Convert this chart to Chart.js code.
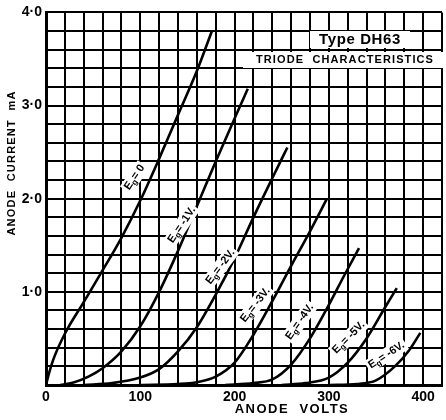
<!DOCTYPE html>
<html>
<head>
<meta charset="utf-8">
<script src="https://cdn.jsdelivr.net/npm/chart.js@4/dist/chart.umd.min.js"></script>
<style>
  html, body { margin: 0; padding: 0; background: #fff; }
  #wrap { width: 446px; height: 420px; position: relative; }
</style>
</head>
<body>
<div id="wrap"><canvas id="valve"></canvas></div>
<script>
// Triode characteristics, anode volts vs anode current (mA)

const volts0 = [0, 3, 8, 20, 40, 60, 80, 100, 120, 140, 160, 176];
const amps0 = [0, 0.12, 0.28, 0.55, 0.89, 1.23, 1.58, 1.98, 2.43, 2.9, 3.37, 3.8];

const volts1 = [15, 30, 45, 60, 80, 100, 120, 140, 160, 180, 200, 214];
const amps1 = [0, 0.03, 0.09, 0.18, 0.36, 0.63, 1.0, 1.44, 1.92, 2.4, 2.86, 3.18];

const volts2 = [40, 70, 100, 120, 140, 160, 180, 200, 220, 240, 256];
const amps2 = [0, 0.02, 0.08, 0.17, 0.36, 0.62, 0.97, 1.36, 1.8, 2.22, 2.55];

const volts3 = [100, 140, 160, 180, 200, 220, 240, 260, 280, 298];
const amps3 = [0, 0.01, 0.03, 0.09, 0.24, 0.54, 0.9, 1.28, 1.65, 2.0];

const volts4 = [190, 220, 240, 260, 280, 300, 316, 332];
const amps4 = [0, 0.02, 0.06, 0.22, 0.5, 0.86, 1.17, 1.47];

const volts5 = [250, 275, 300, 320, 340, 360, 372];
const amps5 = [0, 0.02, 0.08, 0.24, 0.5, 0.84, 1.04];

const volts6 = [300, 330, 350, 370, 385, 397];
const amps6 = [0, 0.01, 0.05, 0.2, 0.37, 0.56];

const curveNames = ["0", "-1V.", "-2V.", "-3V.", "-4V.", "-5V.", "-6V."];
// where each curve label sits (volts, mA) and its slant in degrees
const labelVolts = [94, 144, 185, 222, 269, 321, 361];
const labelAmps = [2.23, 1.72, 1.27, 0.86, 0.68, 0.51, 0.32];
const labelSlant = [-56, -56, -53, -52, -55, -45, -33];

const xTickLabels = ["0", "100", "200", "300", "400"];
const yTickLabels = ["1·0", "2·0", "3·0", "4·0"];

const allVolts = [volts0, volts1, volts2, volts3, volts4, volts5, volts6];
const allAmps = [amps0, amps1, amps2, amps3, amps4, amps5, amps6];

const datasets = allVolts.map((vs, i) => ({
  label: "Eg= " + curveNames[i],
  data: vs.map((v, j) => ({ x: v, y: allAmps[i][j] })),
  borderColor: "#000",
  borderWidth: 2.6,
  pointRadius: 0,
  fill: false,
  cubicInterpolationMode: "monotone",
}));

const BOLD = "'Liberation Sans', Arial, sans-serif";

const textPlugin = {
  id: "valveText",
  afterDatasetsDraw(chart) {
    const c = chart.ctx;
    const xs = chart.scales.x;
    const ys = chart.scales.y;
    c.save();

    // title box
    c.fillStyle = "#fff";
    c.fillRect(310, 31, 100, 17);
    c.fillRect(243, 52, 203, 16);
    c.fillStyle = "#000";
    c.textAlign = "center";
    c.textBaseline = "middle";
    c.font = "bold 15px " + BOLD;
    c.letterSpacing = "0.6px";
    c.fillText("Type DH63", 360, 40);
    c.font = "bold 11px " + BOLD;
    c.letterSpacing = "1.1px";
    c.fillText("TRIODE  CHARACTERISTICS", 345, 60);

    // curve labels
    c.letterSpacing = "0px";
    curveNames.forEach((name, i) => {
      const px = xs.getPixelForValue(labelVolts[i]);
      const py = ys.getPixelForValue(labelAmps[i]);
      c.save();
      c.translate(px, py);
      c.rotate(labelSlant[i] * Math.PI / 180);
      c.font = "bold 11px " + BOLD;
      const wE = c.measureText("E").width;
      c.font = "bold 8px " + BOLD;
      const wg = c.measureText("g").width;
      c.font = "bold 11px " + BOLD;
      const rest = "= " + name;
      const wr = c.measureText(rest).width;
      const w = wE + wg + wr;
      c.fillStyle = "#fff";
      c.fillRect(-w / 2 - 2, -7, w + 4, 14);
      c.fillStyle = "#000";
      c.textAlign = "left";
      c.textBaseline = "middle";
      c.fillText("E", -w / 2, 0);
      c.font = "bold 8px " + BOLD;
      c.fillText("g", -w / 2 + wE, 3);
      c.font = "bold 11px " + BOLD;
      c.fillText(rest, -w / 2 + wE + wg, 0);
      c.restore();
    });

    // axis titles
    c.fillStyle = "#000";
    c.textAlign = "center";
    c.textBaseline = "middle";
    c.font = "bold 13px " + BOLD;
    c.letterSpacing = "1.5px";
    c.fillText("ANODE  VOLTS", 292, 409);
    c.save();
    c.translate(12, 163);
    c.rotate(-Math.PI / 2);
    c.font = "bold 11px " + BOLD;
    c.letterSpacing = "1.2px";
    c.fillText("ANODE  CURRENT  mA", 0, 0);
    c.restore();

    c.restore();
  },
};

new Chart(document.getElementById("valve"), {
  type: "line",
  data: { datasets: datasets },
  options: {
    responsive: true,
    maintainAspectRatio: false,
    animation: false,
    layout: { padding: { top: 12, right: 0, left: 0, bottom: 0 } },
    plugins: {
      legend: { display: false },
      tooltip: { enabled: false },
    },
    scales: {
      x: {
        type: "linear",
        min: 0,
        max: 420,
        afterFit(scale) { scale.height = 35; },
        border: { display: true, color: "#000", width: 3 },
        grid: { color: "#000", lineWidth: 2, drawTicks: false },
        ticks: {
          stepSize: 20,
          padding: 4,
          maxRotation: 0,
          autoSkip: false,
          color: "#000",
          font: { family: BOLD, size: 14, weight: "bold" },
          callback: (v) => (v % 100 === 0 ? xTickLabels[v / 100] : ""),
        },
      },
      y: {
        min: 0,
        max: 4,
        afterFit(scale) { scale.width = 46; },
        border: { display: true, color: "#000", width: 3 },
        grid: { color: "#000", lineWidth: 2, drawTicks: false },
        ticks: {
          stepSize: 0.2,
          padding: 4,
          autoSkip: false,
          color: "#000",
          font: { family: BOLD, size: 14, weight: "bold" },
          callback: (v) => {
            const r = Math.round(v);
            if (Math.abs(v - r) > 1e-6 || r === 0) return "";
            return yTickLabels[r - 1];
          },
        },
      },
    },
  },
  plugins: [textPlugin],
});
</script>
</body>
</html>
